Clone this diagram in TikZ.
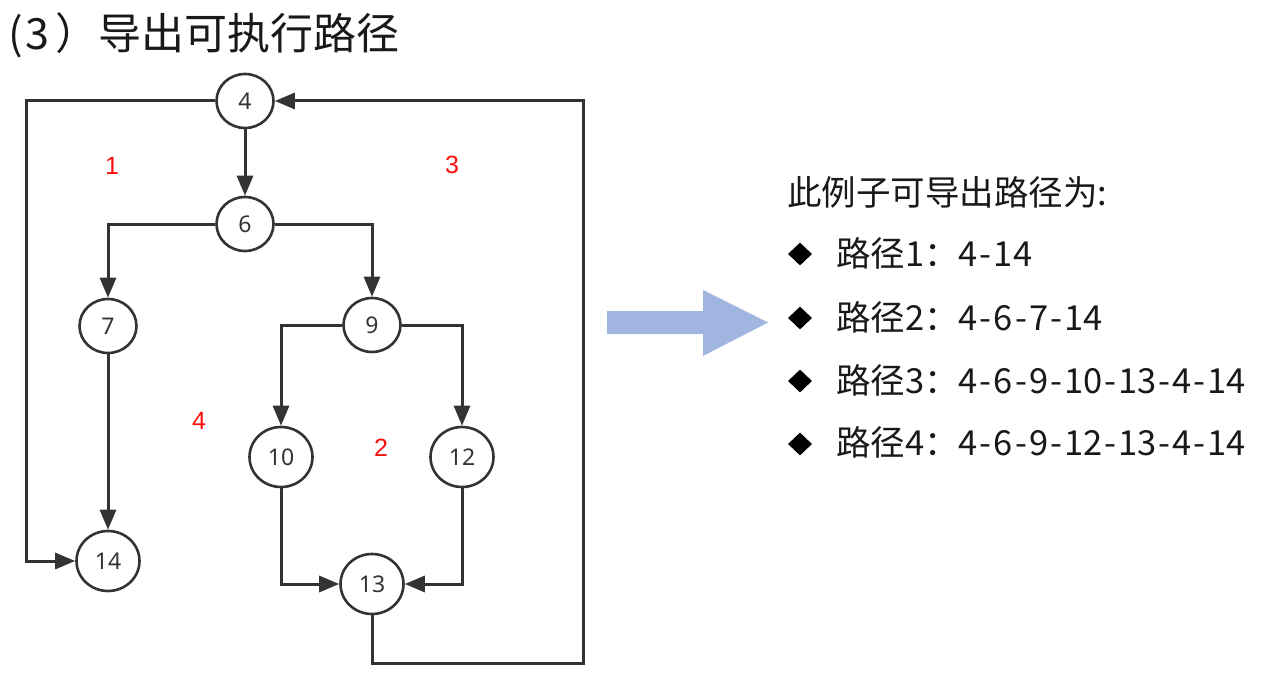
\documentclass[tikz,border=0pt]{standalone}
\usepackage{fontspec}
\usetikzlibrary{arrows.meta,shapes.geometric}
\newfontfamily\cjkfont{Noto Sans CJK SC}
\newfontfamily\numfont{Noto Sans}
\newfontfamily\lblfont{Liberation Sans}
\newcommand\hy{\kern2pt-\kern2pt}
\definecolor{edgec}{RGB}{51,51,51}
\definecolor{bigarrowc}{RGB}{160,181,224}
\definecolor{lblred}{RGB}{250,15,15}
\begin{document}
\begin{tikzpicture}[x=1pt,y=-1pt,
  vtx/.style={ellipse, draw=edgec, line width=2.6pt, fill=white,
    minimum width=57pt, minimum height=54pt, inner sep=0pt,
    font=\numfont\fontsize{23}{23}\selectfont, text=edgec},
  vtxb/.style={vtx, minimum width=63pt, minimum height=60pt},
  flow/.style={draw=edgec, line width=3pt, line join=miter,
    -{Triangle[length=20pt,width=16pt]}},
  region/.style={text=lblred, inner sep=0pt,
    font=\lblfont\fontsize{25}{25}\selectfont},
  title/.style={anchor=west, inner sep=0pt, text=black!90,
    font=\cjkfont\fontsize{43}{43}\selectfont},
  listtext/.style={anchor=west, inner sep=0pt, text=black!90,
    font=\cjkfont\fontsize{34.5}{34.5}\selectfont},
  bullet/.style={diamond, fill=black, inner sep=0pt,
    minimum width=24pt, minimum height=23pt}]
\useasboundingbox (0,0) rectangle (1267,690);

% title
\node[title] (ttl) at (8,35) {(\kern3pt 3\kern6pt）导出可执行路径};

% vertices
\node[vtx]  (n4)  at (245,101) {4};
\node[vtx]  (n6)  at (245,224) {6};
\node[vtx]  (n7)  at (108,326) {7};
\node[vtx]  (n9)  at (372,325) {9};
\node[vtxb] (n10) at (281,457) {10};
\node[vtxb] (n12) at (462,457) {12};
\node[vtxb] (n14) at (108,561) {14};
\node[vtxb] (n13) at (372,584) {13};

\coordinate (loopL) at (26,561);
\coordinate (loopBR) at (583,663);

% edges
\draw[flow] (n4) -- (n6);
\draw[flow] (n4) -| (loopL) -- (n14);
\draw[flow] (n6) -| (n7);
\draw[flow] (n6) -| (n9);
\draw[flow] (n7) -- (n14);
\draw[flow] (n9) -| (n10);
\draw[flow] (n9) -| (n12);
\draw[flow] (n10) |- (n13);
\draw[flow] (n12) |- (n13);
\draw[flow] (n13) |- (loopBR) |- (n4);

% region labels
\node[region] (r1) at (112,166) {1};
\node[region] (r3) at (452,165) {3};
\node[region] (r4) at (199,421) {4};
\node[region] (r2) at (381,448) {2};

% big arrow
\fill[bigarrowc] (607,311) -- (703,311) -- (703,290) -- (768,322.5)
  -- (703,356) -- (703,334) -- (607,334) -- cycle;

% path list
\node[listtext] (hdr) at (787,192) {此例子可导出路径为:};
\node[bullet] (b1) at (800,254) {};
\node[bullet] (b2) at (800,318) {};
\node[bullet] (b3) at (800,381) {};
\node[bullet] (b4) at (800,444) {};
\node[listtext] (p1) at (836,253) {路径1：4\hy 14};
\node[listtext] (p2) at (836,317) {路径2：4\hy 6\hy 7\hy 14};
\node[listtext] (p3) at (836,380) {路径3：4\hy 6\hy 9\hy 10\hy 13\hy 4\hy 14};
\node[listtext] (p4) at (836,442) {路径4：4\hy 6\hy 9\hy 12\hy 13\hy 4\hy 14};
\end{tikzpicture}
\end{document}
